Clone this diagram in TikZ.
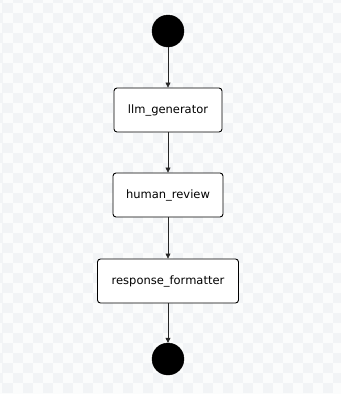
\documentclass[tikz,border=0pt]{standalone}
\usepackage{fontspec}
\setmainfont{DejaVu Sans}
\usetikzlibrary{arrows.meta}
\definecolor{chkA}{HTML}{FBFCFC}
\definecolor{chkB}{HTML}{F2F4F6}
\tikzset{
  statebox/.style={draw=black, line width=0.9bp, rounded corners=3bp, fill=white,
    minimum height=44bp, inner sep=0pt, font=\fontsize{11.5bp}{13bp}\selectfont},
  terminal/.style={circle, fill=black, draw=black, inner sep=0pt, minimum size=32bp},
  flow/.style={draw=black!85, line width=0.6bp, -{Triangle[length=5bp,width=5bp]}}
}
\begin{document}
\begin{tikzpicture}[x=1bp,y=-1bp]
\useasboundingbox (0,0) rectangle (341,394);
\fill[chkA] (0,0) rectangle (341,394);
\foreach \i in {0,...,34}{
  \foreach \j in {0,...,39}{
    \pgfmathparse{int(mod(\i+\j,2))}
    \ifnum\pgfmathresult=0
      \fill[chkB] ({-7.5+\i*10},{-7.5+\j*10}) rectangle ++(10,10);
    \fi
  }
}
\node[terminal] (start) at (168,31) {};
\node[statebox, minimum width=108bp] (gen) at (168,110) {llm\_generator};
\node[statebox, minimum width=110bp] (rev) at (168,195) {human\_review};
\node[statebox, minimum width=141bp] (fmt) at (168,281) {response\_formatter};
\node[terminal] (stop) at (168,359) {};
\draw[flow] (start) -- (gen);
\draw[flow] (gen) -- (rev);
\draw[flow] (rev) -- (fmt);
\draw[flow] (fmt) -- (stop);
\end{tikzpicture}
\end{document}
